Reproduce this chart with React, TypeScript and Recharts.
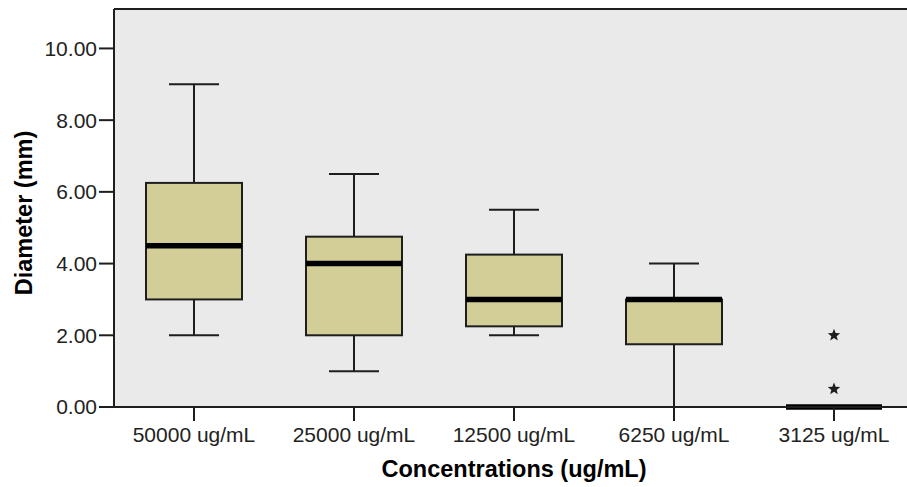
import React from "react";
import {
  Bar,
  CartesianGrid,
  ComposedChart,
  ReferenceLine,
  Scatter,
  XAxis,
  YAxis,
} from "recharts";

// box plot values
const categories = [
  "50000 ug/mL",
  "25000 ug/mL",
  "12500 ug/mL",
  "6250 ug/mL",
  "3125 ug/mL",
];
const mins = [2, 1, 2, 0, 0];
const q1s = [3, 2, 2.25, 1.75, 0];
const medians = [4.5, 4, 3, 3, 0];
const q3s = [6.25, 4.75, 4.25, 3, 0];
const maxs = [9, 6.5, 5.5, 4, 0];

const outlierCategories = ["3125 ug/mL", "3125 ug/mL"];
const outlierValues = [2, 0.5];

const yTicks = [0, 2, 4, 6, 8, 10];
const Y_MAX = 11.1;

const data = categories.map((name, i) => ({
  name,
  min: mins[i],
  q1: q1s[i],
  median: medians[i],
  q3: q3s[i],
  max: maxs[i],
}));

const outliers = outlierCategories.map((name, i) => ({
  name,
  value: outlierValues[i],
}));

const FONT = "'Liberation Sans', Arial, sans-serif";
const INK = "#1e1e1e";
const BOX_FILL = "#D3CE98";

const renderBox = (props: any) => {
  const { x, y, width, height, payload } = props;
  const top = Math.min(y, y + height);
  const h = Math.abs(height);
  const span = payload.max - payload.min;
  const k = span > 0 ? h / span : 0;
  const py = (v: number) => top + (payload.max - v) * k;
  const cx = x + width / 2;
  const cap = 25;

  return (
    <g>
      <line x1={cx} x2={cx} y1={py(payload.max)} y2={py(payload.min)} stroke={INK} strokeWidth={2} />
      <line x1={cx - cap} x2={cx + cap} y1={py(payload.max)} y2={py(payload.max)} stroke={INK} strokeWidth={2} />
      <line x1={cx - cap} x2={cx + cap} y1={py(payload.min)} y2={py(payload.min)} stroke={INK} strokeWidth={2} />
      <rect
        x={x}
        y={py(payload.q3)}
        width={width}
        height={py(payload.q1) - py(payload.q3)}
        fill={BOX_FILL}
        stroke={INK}
        strokeWidth={2}
      />
      <line
        x1={x}
        x2={x + width}
        y1={py(payload.median)}
        y2={py(payload.median)}
        stroke="#000"
        strokeWidth={5.5}
      />
    </g>
  );
};

const renderStar = (props: any) => {
  const { cx, cy } = props;
  const pts: string[] = [];
  for (let i = 0; i < 10; i++) {
    const r = i % 2 === 0 ? 6.5 : 2.8;
    const a = -Math.PI / 2 + (i * Math.PI) / 5;
    pts.push(`${cx + r * Math.cos(a)},${cy + r * Math.sin(a)}`);
  }
  return <polygon points={pts.join(" ")} fill={INK} />;
};

const YTitle = (props: any) => {
  const { viewBox } = props;
  const cy = viewBox.y + viewBox.height / 2 + 5;
  return (
    <text
      x={24}
      y={cy}
      transform={`rotate(-90 24 ${cy})`}
      textAnchor="middle"
      dominantBaseline="central"
      fontFamily={FONT}
      fontWeight="bold"
      fontSize={23.5}
      fill="#000"
    >
      Diameter (mm)
    </text>
  );
};

const XTitle = (props: any) => {
  const { viewBox } = props;
  return (
    <text
      x={viewBox.x + viewBox.width / 2}
      y={477}
      textAnchor="middle"
      fontFamily={FONT}
      fontWeight="bold"
      fontSize={23.5}
      fill="#000"
    >
      Concentrations (ug/mL)
    </text>
  );
};

export default function App() {
  return (
    <div style={{ position: "absolute", left: 0, top: 0, background: "#fff" }}>
      <ComposedChart
        width={907}
        height={487}
        data={data}
        margin={{ top: 9, right: -7, bottom: 0, left: 0 }}
      >
        <CartesianGrid fill="#EAEAEA" stroke="none" />
        <XAxis
          dataKey="name"
          allowDuplicatedCategory={false}
          height={80}
          tickSize={14}
          tickMargin={6}
          axisLine={{ stroke: INK, strokeWidth: 2 }}
          tickLine={{ stroke: INK, strokeWidth: 2 }}
          tick={{ fill: "#222", fontSize: 21, fontFamily: FONT }}
          interval={0}
          label={<XTitle />}
        />
        <YAxis
          type="number"
          domain={[0, Y_MAX]}
          ticks={yTicks}
          width={114}
          tickSize={15}
          tickMargin={2}
          tickFormatter={(v: number) => v.toFixed(2)}
          axisLine={{ stroke: INK, strokeWidth: 2 }}
          tickLine={{ stroke: INK, strokeWidth: 2 }}
          tick={{ fill: "#222", fontSize: 21, fontFamily: FONT }}
          label={<YTitle />}
        />
        <ReferenceLine y={Y_MAX} stroke={INK} strokeWidth={2} />
        <Bar
          dataKey={(d: any) => [d.min, d.max]}
          barSize={96}
          shape={renderBox}
          isAnimationActive={false}
        />
        <Scatter
          data={outliers}
          dataKey="value"
          shape={renderStar}
          isAnimationActive={false}
        />
      </ComposedChart>
    </div>
  );
}
